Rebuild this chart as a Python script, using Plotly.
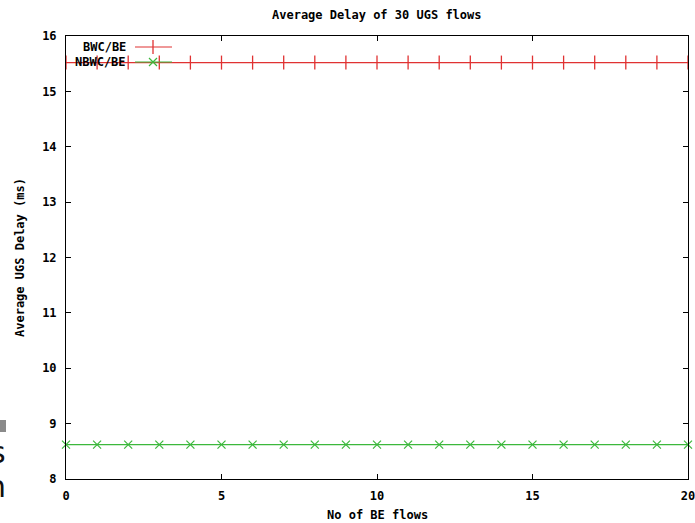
import plotly.graph_objects as go

# ---- data ----
be_flows = [0, 1, 2, 3, 4, 5, 6, 7, 8, 9, 10, 11, 12, 13, 14, 15, 16, 17, 18, 19, 20]
bwc_be = [15.52, 15.52, 15.52, 15.52, 15.52, 15.52, 15.52, 15.52, 15.52, 15.52, 15.52,
          15.52, 15.52, 15.52, 15.52, 15.52, 15.52, 15.52, 15.52, 15.52, 15.52]
nbwc_be = [8.62, 8.62, 8.62, 8.62, 8.62, 8.62, 8.62, 8.62, 8.62, 8.62, 8.62,
           8.62, 8.62, 8.62, 8.62, 8.62, 8.62, 8.62, 8.62, 8.62, 8.62]
series_names = ["BWC/BE", "NBWC/BE"]
x_ticks = [0, 5, 10, 15, 20]
y_ticks = [8, 9, 10, 11, 12, 13, 14, 15, 16]

RED = "#e03232"
GREEN = "#3cb83c"
FONT = dict(family="DejaVu Sans Mono", size=12, color="#000", weight="bold")

W, H = 695, 523
L, R, T, B = 66, 7, 36, 44
PW, PH = W - L - R, H - T - B

def px_x(px):
    return (px - L) / PW

def px_y(py):
    return (H - B - py) / PH

red_marker = dict(symbol="line-ns", size=10, line=dict(color=RED, width=1.3), color=RED)
green_marker = dict(symbol="x-thin", size=8, line=dict(color=GREEN, width=1.2), color=GREEN)

fig = go.Figure()
fig.add_trace(go.Scatter(
    x=be_flows, y=bwc_be, name=series_names[0], mode="lines+markers",
    line=dict(color=RED, width=1.2), marker=red_marker, cliponaxis=False, showlegend=False,
))
fig.add_trace(go.Scatter(
    x=be_flows, y=nbwc_be, name=series_names[1], mode="lines+markers",
    line=dict(color=GREEN, width=1.2), marker=green_marker, cliponaxis=False, showlegend=False,
))

# gnuplot-style key (text left of the sample), drawn on an overlay in plot-fraction units
key_rows_px = [47, 62]
key_text_right_px = 128
key_line_px = (135, 172)
key_marker_px = 153
fig.add_trace(go.Scatter(
    x=[px_x(key_marker_px)], y=[px_y(key_rows_px[0])], mode="markers", marker=red_marker,
    xaxis="x2", yaxis="y2", showlegend=False, hoverinfo="skip", cliponaxis=False,
))
fig.add_trace(go.Scatter(
    x=[px_x(key_marker_px)], y=[px_y(key_rows_px[1])], mode="markers", marker=green_marker,
    xaxis="x2", yaxis="y2", showlegend=False, hoverinfo="skip", cliponaxis=False,
))

axis_common = dict(
    showgrid=False, zeroline=False, showline=True, linecolor="#000", linewidth=1,
    mirror="allticks", ticks="inside", ticklen=5, tickwidth=1, tickcolor="#000",
    tickfont=FONT, ticklabeloverflow="allow", automargin=False,
)
fig.update_xaxes(range=[0, 20], tickvals=x_ticks, ticktext=[str(v) for v in x_ticks],
                 ticklabelstandoff=6, **axis_common)
fig.update_yaxes(range=[8, 16], tickvals=y_ticks, ticktext=[str(v) for v in y_ticks],
                 ticklabelstandoff=6, **axis_common)

annotations = [
    dict(text="Average Delay of 30 UGS flows", x=px_x(377), y=px_y(15), xref="paper", yref="paper",
         showarrow=False, font=FONT, xanchor="center", yanchor="middle"),
    dict(text="No of BE flows", x=px_x(377), y=px_y(515), xref="paper", yref="paper",
         showarrow=False, font=FONT, xanchor="center", yanchor="middle"),
    dict(text="Average UGS Delay (ms)", x=px_x(20), y=px_y(258), xref="paper", yref="paper",
         showarrow=False, font=FONT, textangle=-90, xanchor="center", yanchor="middle"),
    dict(text=series_names[0], x=px_x(key_text_right_px), y=px_y(key_rows_px[0]), xref="paper",
         yref="paper", showarrow=False, font=FONT, xanchor="right", yanchor="middle"),
    dict(text=series_names[1], x=px_x(key_text_right_px), y=px_y(key_rows_px[1]), xref="paper",
         yref="paper", showarrow=False, font=FONT, xanchor="right", yanchor="middle"),
    # cropped artifacts at the left edge
    dict(text="s", x=px_x(7), y=px_y(452), xref="paper", yref="paper", showarrow=False,
         font=dict(family="DejaVu Sans", size=30, color="#111"), xanchor="right", yanchor="middle",
         borderpad=0),
    dict(text="n", x=px_x(7), y=px_y(486), xref="paper", yref="paper", showarrow=False,
         font=dict(family="DejaVu Sans", size=30, color="#111"), xanchor="right", yanchor="middle",
         borderpad=0),
]

shapes = [
    dict(type="rect", xref="paper", yref="paper", x0=px_x(-2), x1=px_x(6), y0=px_y(432), y1=px_y(420),
         fillcolor="#8a8a8a", line=dict(width=0)),
    dict(type="line", xref="paper", yref="paper", x0=px_x(key_line_px[0]), x1=px_x(key_line_px[1]),
         y0=px_y(key_rows_px[0]), y1=px_y(key_rows_px[0]), line=dict(color=RED, width=1.2)),
    dict(type="line", xref="paper", yref="paper", x0=px_x(key_line_px[0]), x1=px_x(key_line_px[1]),
         y0=px_y(key_rows_px[1]), y1=px_y(key_rows_px[1]), line=dict(color=GREEN, width=1.2)),
]

fig.update_layout(
    width=W, height=H, margin=dict(l=L, r=R, t=T, b=B, autoexpand=False),
    paper_bgcolor="white", plot_bgcolor="white",
    xaxis2=dict(overlaying="x", range=[0, 1], visible=False, fixedrange=True, automargin=False),
    yaxis2=dict(overlaying="y", range=[0, 1], visible=False, fixedrange=True, automargin=False),
    annotations=annotations, shapes=shapes,
)

fig.write_html("out.html")
